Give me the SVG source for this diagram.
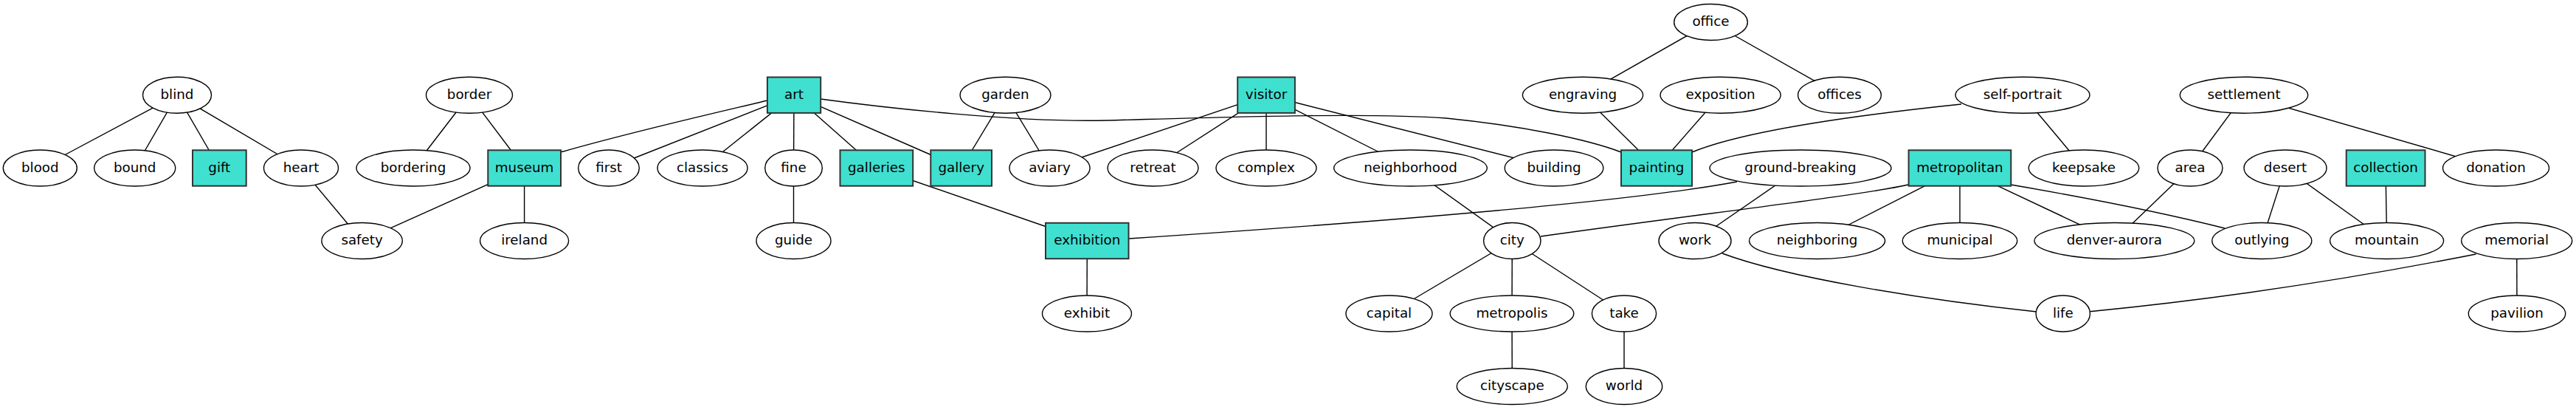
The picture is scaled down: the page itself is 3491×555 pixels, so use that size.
<svg xmlns="http://www.w3.org/2000/svg" width="3491" height="555" viewBox="0 0 3491 555">
<style>
.n ellipse{fill:#fff;stroke:#000;stroke-width:1.4}
.n rect{fill:#40E0D0;stroke:#333;stroke-width:2}
.n text{font-family:"DejaVu Sans",sans-serif;font-size:18.3px;text-anchor:middle;fill:#000}
#edges path,#edges line{stroke:#000;stroke-width:1.4;fill:none}
</style>
<rect width="3491" height="555" fill="#fff"/>
<g id="edges">
<line x1="240" y1="128.7" x2="54.3" y2="227.5"/>
<line x1="240" y1="128.7" x2="182.7" y2="227.5"/>
<line x1="240" y1="128.7" x2="297.3" y2="227.5"/>
<line x1="240" y1="128.7" x2="408" y2="227.5"/>
<line x1="408" y1="227.5" x2="490.6" y2="326"/>
<line x1="636" y1="128.7" x2="560" y2="227.5"/>
<line x1="636" y1="128.7" x2="710.6" y2="227.5"/>
<line x1="710.6" y1="227.5" x2="490.6" y2="326"/>
<line x1="710.6" y1="227.5" x2="710.6" y2="326"/>
<path d="M1040,136 C960,155 850,180 760,206"/>
<line x1="1076" y1="128.7" x2="825" y2="227.5"/>
<line x1="1076" y1="128.7" x2="952" y2="227.5"/>
<line x1="1076" y1="128.7" x2="1075.5" y2="227.5"/>
<line x1="1076" y1="128.7" x2="1187.8" y2="227.5"/>
<line x1="1076" y1="128.7" x2="1302.7" y2="227.5"/>
<path d="M1112,134 C1200,146 1380,166 1500,163 C1650,159 1850,152 1960,160 C2060,170 2150,188 2197,206"/>
<line x1="1075.5" y1="227.5" x2="1075.5" y2="326"/>
<line x1="1362.5" y1="128.7" x2="1302.7" y2="227.5"/>
<line x1="1362.5" y1="128.7" x2="1422.5" y2="227.5"/>
<line x1="1187.8" y1="227.5" x2="1473.3" y2="326"/>
<line x1="1473.3" y1="326" x2="1473" y2="424.5"/>
<line x1="1716" y1="128.7" x2="1422.5" y2="227.5"/>
<line x1="1716" y1="128.7" x2="1562.5" y2="227.5"/>
<line x1="1716" y1="128.7" x2="1716" y2="227.5"/>
<line x1="1716" y1="128.7" x2="1911.5" y2="227.5"/>
<line x1="1716" y1="128.7" x2="2106" y2="227.5"/>
<line x1="1911.5" y1="227.5" x2="2049.3" y2="326"/>
<line x1="2049.3" y1="326" x2="1882.5" y2="424.5"/>
<line x1="2049.3" y1="326" x2="2049" y2="424.5"/>
<line x1="2049.3" y1="326" x2="2201" y2="424.5"/>
<line x1="2049" y1="424.5" x2="2049.3" y2="523"/>
<line x1="2201" y1="424.5" x2="2201" y2="523"/>
<line x1="2318.5" y1="30" x2="2145" y2="128.7"/>
<line x1="2318.5" y1="30" x2="2493" y2="128.7"/>
<line x1="2145" y1="128.7" x2="2245" y2="227.5"/>
<line x1="2331.6" y1="128.7" x2="2245" y2="227.5"/>
<path d="M2293,206 Q2380,170 2658,141"/>
<line x1="2741" y1="128.7" x2="2824" y2="227.5"/>
<path d="M1530,323 C1800,305 2200,275 2354,246"/>
<line x1="2440" y1="227.5" x2="2297" y2="326"/>
<path d="M2088,320 C2300,290 2520,265 2586,250"/>
<line x1="2656" y1="227.5" x2="2462.6" y2="326"/>
<line x1="2656" y1="227.5" x2="2656" y2="326"/>
<line x1="2656" y1="227.5" x2="2865.4" y2="326"/>
<path d="M2725,250 Q2902,280.5 3015,309"/>
<line x1="2968" y1="227.5" x2="2865.4" y2="326"/>
<line x1="3041" y1="128.7" x2="2968" y2="227.5"/>
<line x1="3041" y1="128.7" x2="3382.5" y2="227.5"/>
<line x1="3097" y1="227.5" x2="3065.3" y2="326"/>
<line x1="3097" y1="227.5" x2="3234.6" y2="326"/>
<line x1="3233" y1="227.5" x2="3234.6" y2="326"/>
<path d="M2334,343 C2420,375 2600,405 2760,422"/>
<path d="M3355.5,344 Q3086,397 2832,421.7"/>
<line x1="3410.7" y1="326" x2="3411" y2="424.5"/>
</g>
<g id="office" class="n"><ellipse cx="2318.5" cy="30" rx="49.8" ry="24.5"/><text x="2318.5" y="35.3">office</text></g>
<g id="blind" class="n"><ellipse cx="240" cy="128.7" rx="46.5" ry="24.5"/><text x="240" y="134">blind</text></g>
<g id="border" class="n"><ellipse cx="636" cy="128.7" rx="58.5" ry="24.5"/><text x="636" y="134">border</text></g>
<g id="art" class="n"><rect x="1039.9" y="104.5" width="72.3" height="48.4"/><text x="1076" y="134">art</text></g>
<g id="garden" class="n"><ellipse cx="1362.5" cy="128.7" rx="61.4" ry="24.5"/><text x="1362.5" y="134">garden</text></g>
<g id="visitor" class="n"><rect x="1677.2" y="104.5" width="77.7" height="48.4"/><text x="1716" y="134">visitor</text></g>
<g id="engraving" class="n"><ellipse cx="2145" cy="128.7" rx="81.6" ry="24.5"/><text x="2145" y="134">engraving</text></g>
<g id="exposition" class="n"><ellipse cx="2331.6" cy="128.7" rx="81.6" ry="24.5"/><text x="2331.6" y="134">exposition</text></g>
<g id="offices" class="n"><ellipse cx="2493" cy="128.7" rx="56.4" ry="24.5"/><text x="2493" y="134">offices</text></g>
<g id="self-portrait" class="n"><ellipse cx="2741" cy="128.7" rx="91" ry="24.5"/><text x="2741" y="134">self-portrait</text></g>
<g id="settlement" class="n"><ellipse cx="3041" cy="128.7" rx="86.7" ry="24.5"/><text x="3041" y="134">settlement</text></g>
<g id="blood" class="n"><ellipse cx="54.3" cy="227.5" rx="50" ry="24.5"/><text x="54.3" y="232.8">blood</text></g>
<g id="bound" class="n"><ellipse cx="182.7" cy="227.5" rx="55" ry="24.5"/><text x="182.7" y="232.8">bound</text></g>
<g id="gift" class="n"><rect x="261" y="203.3" width="72.7" height="48.4"/><text x="297.3" y="232.8">gift</text></g>
<g id="heart" class="n"><ellipse cx="408" cy="227.5" rx="50.5" ry="24.5"/><text x="408" y="232.8">heart</text></g>
<g id="bordering" class="n"><ellipse cx="560" cy="227.5" rx="77" ry="24.5"/><text x="560" y="232.8">bordering</text></g>
<g id="museum" class="n"><rect x="661.3" y="203.3" width="98.7" height="48.4"/><text x="710.6" y="232.8">museum</text></g>
<g id="first" class="n"><ellipse cx="825" cy="227.5" rx="41.3" ry="24.5"/><text x="825" y="232.8">first</text></g>
<g id="classics" class="n"><ellipse cx="952" cy="227.5" rx="61" ry="24.5"/><text x="952" y="232.8">classics</text></g>
<g id="fine" class="n"><ellipse cx="1075.5" cy="227.5" rx="38.8" ry="24.5"/><text x="1075.5" y="232.8">fine</text></g>
<g id="galleries" class="n"><rect x="1138.5" y="203.3" width="98.7" height="48.4"/><text x="1187.8" y="232.8">galleries</text></g>
<g id="gallery" class="n"><rect x="1261.3" y="203.3" width="82.7" height="48.4"/><text x="1302.7" y="232.8">gallery</text></g>
<g id="aviary" class="n"><ellipse cx="1422.5" cy="227.5" rx="54.5" ry="24.5"/><text x="1422.5" y="232.8">aviary</text></g>
<g id="retreat" class="n"><ellipse cx="1562.5" cy="227.5" rx="61.4" ry="24.5"/><text x="1562.5" y="232.8">retreat</text></g>
<g id="complex" class="n"><ellipse cx="1716" cy="227.5" rx="68" ry="24.5"/><text x="1716" y="232.8">complex</text></g>
<g id="neighborhood" class="n"><ellipse cx="1911.5" cy="227.5" rx="103.8" ry="24.5"/><text x="1911.5" y="232.8">neighborhood</text></g>
<g id="building" class="n"><ellipse cx="2106" cy="227.5" rx="66.8" ry="24.5"/><text x="2106" y="232.8">building</text></g>
<g id="painting" class="n"><rect x="2197" y="203.3" width="96" height="48.4"/><text x="2245" y="232.8">painting</text></g>
<g id="ground-breaking" class="n"><ellipse cx="2440" cy="227.5" rx="123" ry="24.5"/><text x="2440" y="232.8">ground-breaking</text></g>
<g id="metropolitan" class="n"><rect x="2586.6" y="203.3" width="138.7" height="48.4"/><text x="2656" y="232.8">metropolitan</text></g>
<g id="keepsake" class="n"><ellipse cx="2824" cy="227.5" rx="74.7" ry="24.5"/><text x="2824" y="232.8">keepsake</text></g>
<g id="area" class="n"><ellipse cx="2968" cy="227.5" rx="44" ry="24.5"/><text x="2968" y="232.8">area</text></g>
<g id="desert" class="n"><ellipse cx="3097" cy="227.5" rx="56" ry="24.5"/><text x="3097" y="232.8">desert</text></g>
<g id="collection" class="n"><rect x="3179.7" y="203.3" width="106.8" height="48.4"/><text x="3233" y="232.8">collection</text></g>
<g id="donation" class="n"><ellipse cx="3382.5" cy="227.5" rx="72" ry="24.5"/><text x="3382.5" y="232.8">donation</text></g>
<g id="safety" class="n"><ellipse cx="490.6" cy="326" rx="54.7" ry="24.5"/><text x="490.6" y="331.3">safety</text></g>
<g id="ireland" class="n"><ellipse cx="710.6" cy="326" rx="60" ry="24.5"/><text x="710.6" y="331.3">ireland</text></g>
<g id="guide" class="n"><ellipse cx="1075.5" cy="326" rx="50.5" ry="24.5"/><text x="1075.5" y="331.3">guide</text></g>
<g id="exhibition" class="n"><rect x="1417" y="301.8" width="112.5" height="48.4"/><text x="1473.3" y="331.3">exhibition</text></g>
<g id="city" class="n"><ellipse cx="2049.3" cy="326" rx="38.7" ry="24.5"/><text x="2049.3" y="331.3">city</text></g>
<g id="work" class="n"><ellipse cx="2297" cy="326" rx="49" ry="24.5"/><text x="2297" y="331.3">work</text></g>
<g id="neighboring" class="n"><ellipse cx="2462.6" cy="326" rx="92" ry="24.5"/><text x="2462.6" y="331.3">neighboring</text></g>
<g id="municipal" class="n"><ellipse cx="2656" cy="326" rx="77.7" ry="24.5"/><text x="2656" y="331.3">municipal</text></g>
<g id="denver-aurora" class="n"><ellipse cx="2865.4" cy="326" rx="108.4" ry="24.5"/><text x="2865.4" y="331.3">denver-aurora</text></g>
<g id="outlying" class="n"><ellipse cx="3065.3" cy="326" rx="67.5" ry="24.5"/><text x="3065.3" y="331.3">outlying</text></g>
<g id="mountain" class="n"><ellipse cx="3234.6" cy="326" rx="77" ry="24.5"/><text x="3234.6" y="331.3">mountain</text></g>
<g id="memorial" class="n"><ellipse cx="3410.7" cy="326" rx="75" ry="24.5"/><text x="3410.7" y="331.3">memorial</text></g>
<g id="exhibit" class="n"><ellipse cx="1473" cy="424.5" rx="60.5" ry="24.5"/><text x="1473" y="429.8">exhibit</text></g>
<g id="capital" class="n"><ellipse cx="1882.5" cy="424.5" rx="58.5" ry="24.5"/><text x="1882.5" y="429.8">capital</text></g>
<g id="metropolis" class="n"><ellipse cx="2049" cy="424.5" rx="83.8" ry="24.5"/><text x="2049" y="429.8">metropolis</text></g>
<g id="take" class="n"><ellipse cx="2201" cy="424.5" rx="43.6" ry="24.5"/><text x="2201" y="429.8">take</text></g>
<g id="life" class="n"><ellipse cx="2795.8" cy="424.5" rx="36.7" ry="24.5"/><text x="2795.8" y="429.8">life</text></g>
<g id="pavilion" class="n"><ellipse cx="3411" cy="424.5" rx="65.7" ry="24.5"/><text x="3411" y="429.8">pavilion</text></g>
<g id="cityscape" class="n"><ellipse cx="2049.3" cy="523" rx="75" ry="24.5"/><text x="2049.3" y="528.3">cityscape</text></g>
<g id="world" class="n"><ellipse cx="2201" cy="523" rx="51.7" ry="24.5"/><text x="2201" y="528.3">world</text></g>
</svg>
